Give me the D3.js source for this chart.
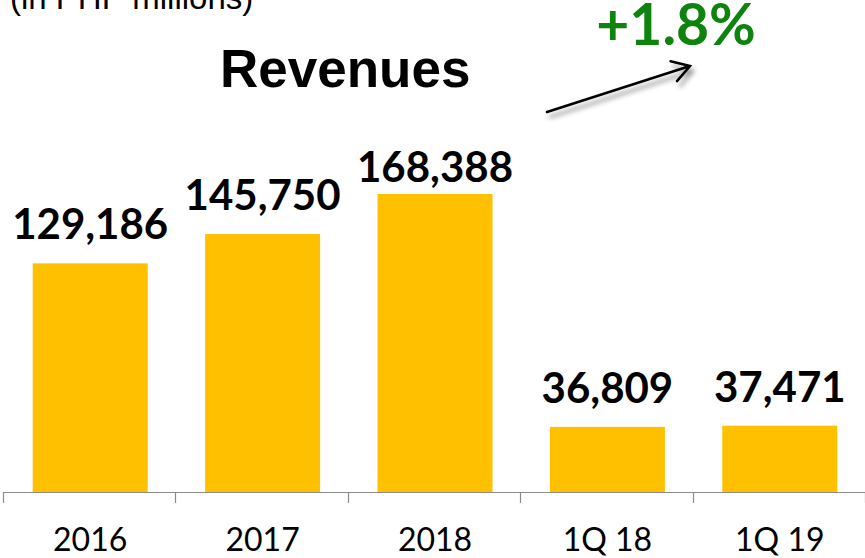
<!DOCTYPE html>
<html>
<head>
<meta charset="utf-8">
<script src="https://cdn.jsdelivr.net/npm/d3@7"></script>
<style>
  html, body { margin: 0; padding: 0; background: #fff; }
  svg { display: block; }
</style>
</head>
<body>
<svg id="chart" width="865" height="558"></svg>
<script>
const categories = ["2016", "2017", "2018", "1Q 18", "1Q 19"];
const revenues = [129186, 145750, 168388, 36809, 37471];
const title = "Revenues";
const unitNote = "(in PHP millions)";
const growthLabel = "+1.8%";
const yMax = 278000;

const svg = d3.select("#chart");
const W = 865, H = 558;
const baseY = 492;

svg.append("rect").attr("width", W).attr("height", H).attr("fill", "#fff");

const defs = svg.append("defs");
const f = defs.append("filter").attr("id", "shadow").attr("x", "-20%").attr("y", "-50%").attr("width", "140%").attr("height", "200%");
f.append("feDropShadow").attr("dx", 3).attr("dy", 5).attr("stdDeviation", 2.5)
  .attr("flood-color", "#000").attr("flood-opacity", 0.45);

const x = d3.scaleBand().domain(categories).range([4, 866]).paddingInner(0.333).paddingOuter(0.1665);
const y = d3.scaleLinear().domain([0, yMax]).range([baseY, 0]);

const data = categories.map((c, i) => ({ cat: c, v: revenues[i] }));

// bars
svg.append("g").selectAll("rect").data(data).join("rect")
  .attr("x", d => x(d.cat))
  .attr("y", d => y(d.v))
  .attr("width", x.bandwidth())
  .attr("height", d => baseY - y(d.v))
  .attr("fill", "#FFC000");

// axis
const step = x.step();
const ax = svg.append("g").attr("stroke", "#8c8c8c").attr("stroke-width", 1.2);
ax.append("line").attr("x1", 4).attr("x2", W).attr("y1", baseY + 0.5).attr("y2", baseY + 0.5);
const boundaries = d3.range(categories.length + 1).map(i => x.range()[0] + i * step);
ax.selectAll("line.tick").data(boundaries).join("line").attr("class", "tick")
  .attr("x1", d => Math.round(d) - 0.5).attr("x2", d => Math.round(d) - 0.5)
  .attr("y1", baseY).attr("y2", baseY + 11);

// category labels
svg.append("g").selectAll("text").data(categories).join("text")
  .attr("x", d => x(d) + x.bandwidth() / 2)
  .attr("y", 551)
  .attr("text-anchor", "middle")
  .attr("font-family", "Lato, 'Open Sans', sans-serif")
  .attr("font-size", 32)
  .attr("fill", "#000")
  .text(d => d);

// value labels
const fmt = d3.format(",");
svg.append("g").selectAll("text").data(data).join("text")
  .attr("x", d => x(d.cat) + x.bandwidth() / 2)
  .attr("y", d => Math.max(y(d.v) - 24, 182))
  .attr("text-anchor", "middle")
  .attr("font-family", "Lato, 'Open Sans', sans-serif")
  .attr("font-weight", "bold")
  .attr("font-size", 42)
  .attr("fill", "#000")
  .text(d => fmt(d.v));

// unit note (cut at top, as in the reference)
svg.append("text")
  .attr("x", 10).attr("y", 9)
  .attr("font-family", "'Liberation Sans', Arial, sans-serif")
  .attr("font-size", 33)
  .attr("fill", "#000")
  .text(unitNote);

// title
svg.append("text")
  .attr("x", 220).attr("y", 87)
  .attr("font-family", "'Liberation Sans', Arial, sans-serif")
  .attr("font-weight", "bold")
  .attr("font-size", 53)
  .attr("fill", "#000")
  .text(title);

// growth label
svg.append("text")
  .attr("x", 676).attr("y", 45)
  .attr("text-anchor", "middle")
  .attr("font-family", "Lato, 'Open Sans', sans-serif")
  .attr("font-weight", "bold")
  .attr("font-size", 57)
  .attr("fill", "#0E840E")
  .text(growthLabel);

// arrow
const p0 = [547, 112], p1 = [690, 66];
const ang = Math.atan2(p1[1] - p0[1], p1[0] - p0[0]);
const hl = 20, ha = 0.55;
const a1 = [p1[0] - hl * Math.cos(ang - ha), p1[1] - hl * Math.sin(ang - ha)];
const a2 = [p1[0] - hl * Math.cos(ang + ha), p1[1] - hl * Math.sin(ang + ha)];
const arrow = svg.append("g").attr("filter", "url(#shadow)");
arrow.append("path")
  .attr("d", `M${p0[0]},${p0[1]}L${p1[0]},${p1[1]}M${a1[0]},${a1[1]}L${p1[0]},${p1[1]}L${a2[0]},${a2[1]}`)
  .attr("fill", "none").attr("stroke", "#000").attr("stroke-width", 2.5)
  .attr("stroke-linecap", "round").attr("stroke-linejoin", "miter");
</script>
</body>
</html>
